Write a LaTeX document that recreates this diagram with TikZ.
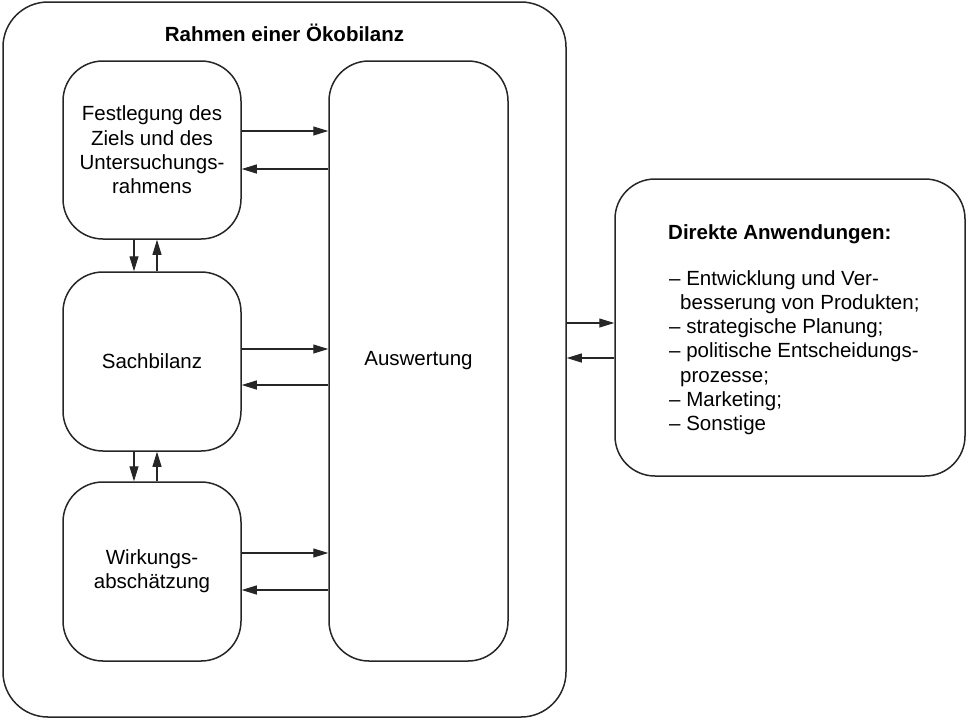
\documentclass[tikz,border=0pt]{standalone}
\usepackage{fontspec}
\setmainfont{Liberation Sans}
\usetikzlibrary{arrows.meta}
\newcommand\diafs{\fontsize{20.5}{24.3}\selectfont}
\begin{document}
\begin{tikzpicture}[x=1pt,y=-1pt,
  box/.style={draw=black!85, line width=1.5pt, rounded corners=40pt, inner sep=0pt, align=center, font=\diafs},
  arr/.style={draw=black!85, line width=1.1pt, -{Triangle[length=15pt,width=9pt]}}]
\useasboundingbox (0,0) rectangle (969,721);
\node[box, rounded corners=45pt, minimum width=563pt, minimum height=715pt] (frame) at (284.5,359.5) {};
\node[font=\diafs\bfseries] (title) at (284.5,33) {Rahmen einer Ökobilanz};
\node[box, minimum width=178pt, minimum height=178pt] (fest) at (152,150) {Festlegung des\\Ziels und des\\Untersuchungs-\\rahmens};
\node[box, minimum width=178pt, minimum height=179pt] (sach) at (152,361.5) {Sachbilanz};
\node[box, minimum width=178pt, minimum height=179pt] (wirk) at (152,571.5) {Wirkungs-\\abschätzung};
\node[box, minimum width=179pt, minimum height=600pt] (ausw) at (418.5,361) {Auswertung};
\node[box, minimum width=350pt, minimum height=297pt] (anw) at (790,327.5) {};
\node[font=\diafs\bfseries, anchor=base west, inner sep=0pt] (anwt) at (668,239) {Direkte Anwendungen:};
\node[font=\diafs, anchor=north west, align=left, inner sep=0pt] (list) at (669,270) {– Entwicklung und Ver-\\\hspace*{11pt}besserung von Produkten;\\– strategische Planung;\\– politische Entscheidungs-\\\hspace*{11pt}prozesse;\\– Marketing;\\– Sonstige};
% horizontal arrows
\draw[arr] ([yshift=19pt]fest.east) -- ([yshift=19pt]fest.east -| ausw.west);
\draw[arr] ([yshift=-19pt]fest.east -| ausw.west) -- ([yshift=-19pt]fest.east);
\draw[arr] ([yshift=12.5pt]sach.east) -- ([yshift=12.5pt]sach.east -| ausw.west);
\draw[arr] ([yshift=-23.5pt]sach.east -| ausw.west) -- ([yshift=-23.5pt]sach.east);
\draw[arr] ([yshift=18.5pt]wirk.east) -- ([yshift=18.5pt]wirk.east -| ausw.west);
\draw[arr] ([yshift=-18.5pt]wirk.east -| ausw.west) -- ([yshift=-18.5pt]wirk.east);
\draw[arr] ([yshift=4.5pt]anw.west -| frame.east) -- ([yshift=4.5pt]anw.west);
\draw[arr] ([yshift=-30.5pt]anw.west) -- ([yshift=-30.5pt]anw.west -| frame.east);
% vertical arrows
\draw[arr] ([xshift=-18pt]fest.south) -- ([xshift=-18pt]sach.north);
\draw[arr] ([xshift=5pt]sach.north) -- ([xshift=5pt]fest.south);
\draw[arr] ([xshift=-18pt]sach.south) -- ([xshift=-18pt]wirk.north);
\draw[arr] ([xshift=5pt]wirk.north) -- ([xshift=5pt]sach.south);
\end{tikzpicture}
\end{document}
